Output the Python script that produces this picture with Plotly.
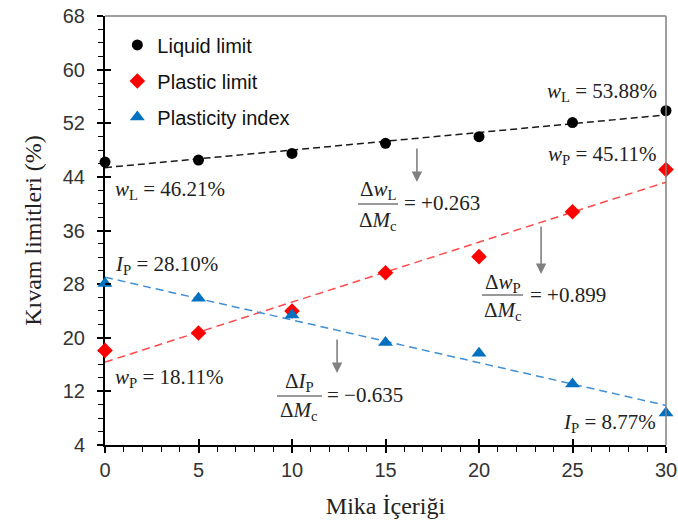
import numpy as np
import plotly.graph_objects as go

# ---------------- data ----------------
mica = [0, 5, 10, 15, 20, 25, 30]
liquid_limit = [46.21, 46.5, 47.5, 49.0, 50.0, 52.1, 53.88]
plastic_limit = [18.11, 20.7, 24.0, 29.7, 32.1, 38.8, 45.11]
plasticity_index = [28.10, 25.9, 23.4, 19.3, 17.7, 13.1, 8.77]
series_names = ["Liquid limit", "Plastic limit", "Plasticity index"]
x_title = "Mika İçeriği"
y_title = "Kıvam limitleri (%)"

W, H = 678, 526
ML, MR, MT, MB = 105, 12, 16, 81
X0, X1 = 0, 30
Y0, Y1 = 4, 68

SERIF = "Liberation Serif, Times New Roman, serif"
SANS = "Liberation Sans, Arial, sans-serif"
TXT = "#222222"

fig = go.Figure()

specs = [
    (liquid_limit, "#000000", "circle", 11, "#1a1a1a", "7px,4px"),
    (plastic_limit, "#ff0000", "diamond", 12, "#ff4a4a", "8px,5px"),
    (plasticity_index, "#0070c0", "triangle-up", 13, "#3f8fd6", "8px,5px"),
]

xs = np.array(mica, dtype=float)
for (vals, col, sym, size, lcol, dash), name in zip(specs, series_names):
    slope, icpt = np.polyfit(xs, np.array(vals, dtype=float), 1)
    fx = np.array([X0, X1], dtype=float)
    fig.add_trace(go.Scatter(
        x=fx, y=slope * fx + icpt, mode="lines",
        line=dict(color=lcol, width=1.5, dash=dash),
        showlegend=False, hoverinfo="skip", cliponaxis=False))
for (vals, col, sym, size, lcol, dash), name in zip(specs, series_names):
    fig.add_trace(go.Scatter(
        x=mica, y=vals, mode="markers", name=name, legendgroup=name,
        marker=dict(color=col, symbol=sym, size=size, line=dict(width=0)),
        cliponaxis=False))

# ---------------- annotations ----------------
ann_font = dict(family=SERIF, size=21, color=TXT)
annotations = []

def label(x, y, text, xanchor):
    annotations.append(dict(x=x, y=y, xref="x", yref="y", text=text,
                            showarrow=False, xanchor=xanchor, yanchor="middle",
                            font=ann_font))

label(0.43, 42.0, "<i>w</i><sub>L</sub> = 46.21%", "left")
label(29.63, 56.7, "<i>w</i><sub>L</sub> = 53.88%", "right")
label(29.63, 47.3, "<i>w</i><sub>P</sub> = 45.11%", "right")
label(0.43, 30.85, "<i>I</i><sub>P</sub> = 28.10%", "left")
label(0.43, 14.0, "<i>w</i><sub>P</sub> = 18.11%", "left")
label(29.57, 7.3, "<i>I</i><sub>P</sub> = 8.77%", "right")

shapes = []

def fraction(xc, x_l, x_r, y_num, y_line, y_den, num, rhs, x_rhs, y_rhs):
    label(xc, y_num, num, "center")
    label(xc, y_den, "Δ<i>M</i><sub>c</sub>", "center")
    label(x_rhs, y_rhs, rhs, "left")
    shapes.append(dict(type="line", xref="x", yref="y", x0=x_l, x1=x_r,
                       y0=y_line, y1=y_line, line=dict(color="#333333", width=1.2)))

def arrow(x, y_from, y_to):
    annotations.append(dict(x=x, y=y_to, ax=x, ay=y_from, xref="x", yref="y",
                            axref="x", ayref="y", text="", showarrow=True,
                            arrowhead=2, arrowsize=1.3, arrowwidth=1.6,
                            arrowcolor="#808080"))

fraction(14.6, 13.53, 15.67, 42.0, 39.95, 37.4,
         "Δ<i>w</i><sub>L</sub>", "= +0.263", 15.88, 40.1)
arrow(16.68, 48.46, 43.24)
fraction(21.26, 20.16, 22.35, 28.2, 26.38, 24.0,
         "Δ<i>w</i><sub>P</sub>", "= +0.899", 22.62, 26.38)
arrow(23.32, 36.82, 29.51)
fraction(10.40, 9.20, 11.60, 13.4, 11.31, 9.1,
         "Δ<i>I</i><sub>P</sub>", "= −0.635", 11.76, 11.46)
arrow(12.41, 19.96, 14.74)

# frame: top and right in grey
shapes.append(dict(type="line", xref="paper", yref="paper", x0=0, x1=1, y0=1, y1=1,
                   line=dict(color="#7f7f7f", width=1.5)))
shapes.append(dict(type="line", xref="paper", yref="paper", x0=1, x1=1, y0=0, y1=1,
                   line=dict(color="#7f7f7f", width=1.5)))

tickfont = dict(family=SANS, size=20, color="#333333")

fig.update_layout(
    width=W, height=H,
    margin=dict(l=ML, r=MR, t=MT, b=MB, pad=0, autoexpand=False),
    paper_bgcolor="white", plot_bgcolor="white",
    showlegend=True,
    legend=dict(x=0.022, y=0.978, xanchor="left", yanchor="top",
                bgcolor="rgba(0,0,0,0)", font=dict(family=SANS, size=20, color="#111111"),
                tracegroupgap=7, itemwidth=30),
    annotations=annotations,
    shapes=shapes,
    xaxis=dict(range=[X0, X1], tick0=0, dtick=5, showgrid=False, zeroline=False,
               showline=True, linecolor="#000000", linewidth=2, automargin=False,
               ticks="outside", ticklen=6, tickwidth=1.5, tickcolor="#000000",
               minor=dict(dtick=1, ticks="outside", ticklen=5, tickwidth=1, tickcolor="#000000"),
               tickfont=tickfont, layer="below traces",
               title=dict(text=x_title, font=dict(family=SERIF, size=24, color=TXT), standoff=17)),
    yaxis=dict(range=[Y0, Y1], tick0=4, dtick=8, showgrid=False, zeroline=False,
               showline=True, linecolor="#000000", linewidth=2, automargin=False,
               ticks="outside", ticklen=6, tickwidth=1.5, tickcolor="#000000",
               minor=dict(dtick=2, ticks="outside", ticklen=5, tickwidth=1, tickcolor="#000000"),
               tickfont=tickfont, layer="below traces", ticklabelstandoff=8,
               title=dict(text=y_title, font=dict(family=SERIF, size=24, color=TXT), standoff=14)),
    xaxis2=dict(range=[X0, X1], overlaying="x", anchor="y", side="bottom", tick0=0, dtick=5,
                ticks="inside", ticklen=6, tickwidth=1.5, tickcolor="#000000", automargin=False,
                showticklabels=False, showgrid=False, zeroline=False, showline=False),
    yaxis2=dict(range=[Y0, Y1], overlaying="y", anchor="x", side="left", tick0=4, dtick=8,
                ticks="inside", ticklen=6, tickwidth=1.5, tickcolor="#000000", automargin=False,
                showticklabels=False, showgrid=False, zeroline=False, showline=False),
)

# invisible trace to activate overlay axes
fig.add_trace(go.Scatter(x=[None], y=[None], xaxis="x2", yaxis="y2",
                         showlegend=False, hoverinfo="skip"))

fig.write_html("out.html")
